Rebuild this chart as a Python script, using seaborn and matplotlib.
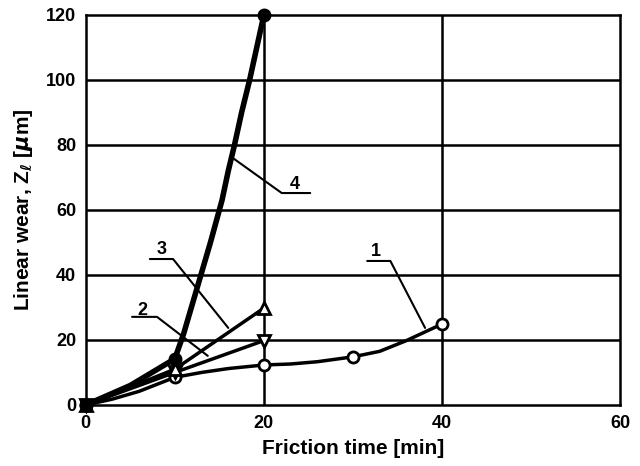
import pandas as pd
import matplotlib
matplotlib.use('Agg')
import matplotlib.pyplot as plt
import seaborn as sns

# Measured points (markers) for each curve
time_pts = [0, 10, 20, 30, 40]
wear1 = [0, 8.5, 12.3, 14.8, 24.9]
time_23 = [0, 10, 20]
wear2 = [0, 10, 19.8]
wear3 = [0, 11, 29.8]
wear4 = [0, 14.2, 120]

# Points (lines 1 and 4 bend between markers)
curve1_t = [0, 3, 6, 10, 13, 16, 20, 23, 26, 30, 33, 36, 40]
curve1_z = [0, 1.8, 4.2, 8.5, 10.0, 11.2, 12.3, 12.6, 13.3, 14.8, 16.5, 19.8, 24.9]
curve4_t = [0, 5, 10, 11, 12.5, 14, 15.3, 16, 16.7, 17.5, 18.4, 19.2, 20]
curve4_z = [0, 6, 14.2, 22, 36, 50, 63, 72, 80, 90, 100, 110, 120]

sns.set_style('white')
plt.rcParams['font.family'] = ['Liberation Sans', 'DejaVu Sans']
plt.rcParams['font.weight'] = 'bold'
plt.rcParams['text.color'] = 'black'
plt.rcParams['axes.labelcolor'] = 'black'
plt.rcParams['xtick.color'] = 'black'
plt.rcParams['ytick.color'] = 'black'

fig = plt.figure(figsize=(6.4, 4.66), dpi=100)
ax = fig.add_axes([0.134, 0.131, 0.835, 0.837])

# grid lines
for gx in [20, 40]:
    ax.axvline(gx, color='black', lw=1.8, zorder=1)
for gy in [20, 40, 60, 80, 100]:
    ax.axhline(gy, color='black', lw=1.8, zorder=1)

# curves
sns.lineplot(x=curve1_t, y=curve1_z, sort=False, color='black', lw=2.5, ax=ax, zorder=3)
sns.lineplot(x=time_23, y=wear2, sort=False, color='black', lw=2.5, ax=ax, zorder=3)
sns.lineplot(x=time_23, y=wear3, sort=False, color='black', lw=2.5, ax=ax, zorder=3)
sns.lineplot(x=curve4_t, y=curve4_z, sort=False, color='black', lw=4, ax=ax, zorder=4)

# markers
ax.plot(time_pts, wear1, 'o', ms=8, mfc='white', mec='black', mew=2, zorder=5, clip_on=False)
ax.plot(time_23, wear2, 'v', ms=8, mfc='white', mec='black', mew=2, zorder=5, clip_on=False)
ax.plot(time_23, wear3, '^', ms=8, mfc='white', mec='black', mew=2, zorder=5, clip_on=False)
ax.plot(time_23, wear4, 'o', ms=9, mfc='black', mec='black', zorder=6, clip_on=False)

# curve labels with leader lines
labels = [
    ('1', (32.6, 47.1), [(31.6, 44.3), (34.2, 44.3), (38.1, 23.7)]),
    ('2', (6.4, 29.2), [(5.2, 27.1), (8.0, 27.1), (13.7, 15.1)]),
    ('3', (8.5, 47.7), [(7.2, 44.9), (9.8, 44.9), (16.0, 23.7)]),
    ('4', (23.5, 67.7), [(25.2, 65.2), (22.0, 65.2), (16.5, 76)]),
]
for txt, pos, path in labels:
    ax.text(pos[0], pos[1], txt, ha='center', va='center', fontsize=13, fontweight='bold', zorder=7)
    ax.plot([p[0] for p in path], [p[1] for p in path], color='black', lw=1.5, zorder=7)

ax.set_xlim(0, 60)
ax.set_ylim(0, 120)
ax.set_xticks([0, 20, 40, 60])
ax.set_yticks([0, 20, 40, 60, 80, 100, 120])
ax.tick_params(length=0, labelsize=13, pad=7)
for lab in ax.get_xticklabels() + ax.get_yticklabels():
    lab.set_fontweight('bold')
for sp in ax.spines.values():
    sp.set_color('black')
    sp.set_linewidth(1.8)

ax.set_xlabel('Friction time [min]', fontsize=15, fontweight='bold', labelpad=5)
ax.set_ylabel(r'Linear wear, Z$_\ell$ [$\mu$m]', fontsize=15, fontweight='bold', labelpad=8)

fig.savefig('out.png', dpi=100)
